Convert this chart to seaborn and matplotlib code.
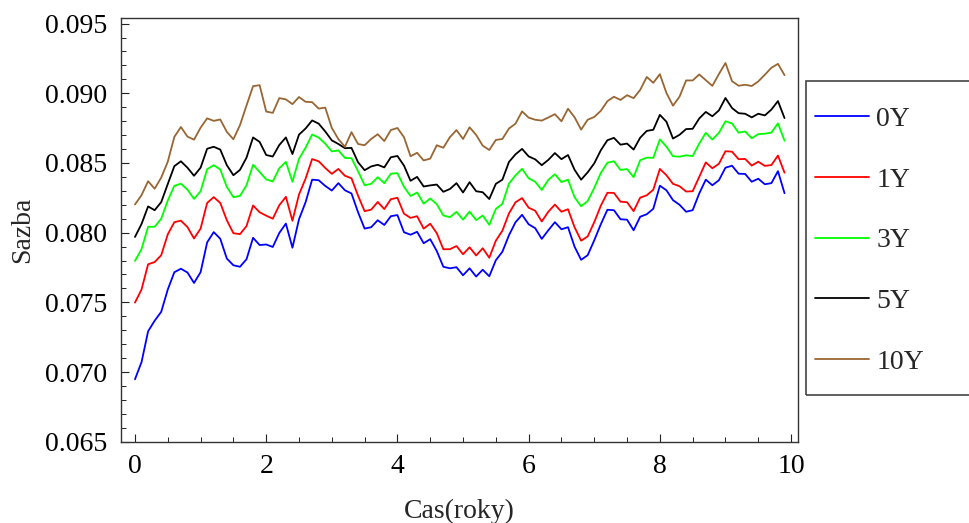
import numpy as np
import pandas as pd
import matplotlib
matplotlib.use("Agg")
import matplotlib.pyplot as plt
from matplotlib.patches import Rectangle
import seaborn as sns

# time grid (years)
t = np.round(np.arange(100) * 0.1, 1)

r_0y = [0.06948, 0.07071, 0.07292, 0.07368, 0.07432, 0.07592, 0.07716, 0.07741, 0.07714, 0.07639,
        0.07716, 0.07930, 0.08004, 0.07956, 0.07814, 0.07766, 0.07755, 0.07809, 0.07963, 0.07911,
        0.07915, 0.07897, 0.07998, 0.08065, 0.07892, 0.08096, 0.08218, 0.08380, 0.08376, 0.08335,
        0.08302, 0.08355, 0.08304, 0.08281, 0.08146, 0.08029, 0.08039, 0.08089, 0.08055, 0.08118,
        0.08126, 0.08003, 0.07985, 0.08006, 0.07924, 0.07953, 0.07868, 0.07755, 0.07744, 0.07752,
        0.07694, 0.07744, 0.07685, 0.07734, 0.07687, 0.07802, 0.07863, 0.07981, 0.08075, 0.08128,
        0.08060, 0.08032, 0.07955, 0.08017, 0.08075, 0.08024, 0.08039, 0.07899, 0.07805, 0.07838,
        0.07945, 0.08060, 0.08164, 0.08161, 0.08096, 0.08093, 0.08017, 0.08114, 0.08132, 0.08171,
        0.08337, 0.08304, 0.08233, 0.08200, 0.08150, 0.08161, 0.08281, 0.08380, 0.08340, 0.08376,
        0.08466, 0.08480, 0.08423, 0.08421, 0.08365, 0.08387, 0.08347, 0.08355, 0.08441, 0.08283]

r_1y = [0.07498, 0.07592, 0.07773, 0.07789, 0.07838, 0.07988, 0.08075, 0.08086, 0.08040, 0.07958,
        0.08029, 0.08213, 0.08255, 0.08213, 0.08089, 0.07996, 0.07989, 0.08047, 0.08195, 0.08146,
        0.08122, 0.08100, 0.08197, 0.08257, 0.08085, 0.08274, 0.08387, 0.08528, 0.08512, 0.08464,
        0.08422, 0.08457, 0.08408, 0.08390, 0.08265, 0.08154, 0.08165, 0.08220, 0.08169, 0.08240,
        0.08250, 0.08136, 0.08106, 0.08118, 0.08029, 0.08064, 0.07996, 0.07881, 0.07881, 0.07904,
        0.07845, 0.07895, 0.07836, 0.07888, 0.07820, 0.07942, 0.08014, 0.08138, 0.08218, 0.08248,
        0.08179, 0.08157, 0.08080, 0.08150, 0.08201, 0.08150, 0.08168, 0.08039, 0.07942, 0.07973,
        0.08075, 0.08193, 0.08286, 0.08285, 0.08222, 0.08218, 0.08154, 0.08251, 0.08268, 0.08308,
        0.08457, 0.08412, 0.08350, 0.08333, 0.08295, 0.08297, 0.08400, 0.08504, 0.08462, 0.08494,
        0.08584, 0.08581, 0.08527, 0.08529, 0.08481, 0.08509, 0.08479, 0.08485, 0.08553, 0.08430]

r_3y = [0.07797, 0.07882, 0.08042, 0.08042, 0.08100, 0.08230, 0.08336, 0.08351, 0.08308, 0.08242,
        0.08297, 0.08455, 0.08484, 0.08453, 0.08328, 0.08254, 0.08264, 0.08340, 0.08487, 0.08435,
        0.08382, 0.08367, 0.08462, 0.08508, 0.08365, 0.08530, 0.08609, 0.08704, 0.08682, 0.08638,
        0.08583, 0.08590, 0.08536, 0.08534, 0.08441, 0.08340, 0.08350, 0.08398, 0.08355, 0.08423,
        0.08427, 0.08329, 0.08263, 0.08288, 0.08208, 0.08245, 0.08204, 0.08123, 0.08111, 0.08149,
        0.08093, 0.08151, 0.08090, 0.08123, 0.08056, 0.08170, 0.08207, 0.08352, 0.08411, 0.08458,
        0.08390, 0.08365, 0.08306, 0.08379, 0.08419, 0.08363, 0.08380, 0.08254, 0.08189, 0.08227,
        0.08321, 0.08428, 0.08502, 0.08512, 0.08450, 0.08456, 0.08398, 0.08520, 0.08538, 0.08537,
        0.08669, 0.08617, 0.08548, 0.08545, 0.08555, 0.08549, 0.08639, 0.08716, 0.08668, 0.08716,
        0.08799, 0.08783, 0.08717, 0.08726, 0.08677, 0.08707, 0.08710, 0.08718, 0.08784, 0.08660]

r_5y = [0.07969, 0.08062, 0.08188, 0.08161, 0.08219, 0.08349, 0.08477, 0.08512, 0.08466, 0.08408,
        0.08466, 0.08602, 0.08616, 0.08596, 0.08484, 0.08412, 0.08450, 0.08538, 0.08683, 0.08651,
        0.08557, 0.08546, 0.08629, 0.08683, 0.08564, 0.08703, 0.08747, 0.08805, 0.08782, 0.08726,
        0.08662, 0.08636, 0.08606, 0.08608, 0.08505, 0.08448, 0.08475, 0.08487, 0.08468, 0.08541,
        0.08550, 0.08481, 0.08372, 0.08400, 0.08331, 0.08339, 0.08345, 0.08293, 0.08313, 0.08355,
        0.08288, 0.08362, 0.08297, 0.08290, 0.08241, 0.08350, 0.08380, 0.08507, 0.08562, 0.08601,
        0.08547, 0.08526, 0.08484, 0.08522, 0.08571, 0.08527, 0.08557, 0.08451, 0.08380, 0.08433,
        0.08497, 0.08591, 0.08663, 0.08680, 0.08631, 0.08639, 0.08596, 0.08681, 0.08730, 0.08738,
        0.08845, 0.08796, 0.08675, 0.08702, 0.08743, 0.08745, 0.08819, 0.08866, 0.08835, 0.08877,
        0.08966, 0.08894, 0.08857, 0.08853, 0.08827, 0.08853, 0.08841, 0.08883, 0.08944, 0.08822]

r_10y = [0.08202, 0.08269, 0.08369, 0.08315, 0.08395, 0.08509, 0.08687, 0.08758, 0.08689, 0.08667,
         0.08753, 0.08820, 0.08802, 0.08812, 0.08723, 0.08670, 0.08771, 0.08912, 0.09051, 0.09058,
         0.08869, 0.08859, 0.08965, 0.08956, 0.08922, 0.08973, 0.08939, 0.08936, 0.08890, 0.08897,
         0.08751, 0.08671, 0.08616, 0.08721, 0.08636, 0.08627, 0.08672, 0.08706, 0.08657, 0.08736,
         0.08751, 0.08685, 0.08548, 0.08573, 0.08518, 0.08531, 0.08627, 0.08609, 0.08685, 0.08736,
         0.08672, 0.08756, 0.08701, 0.08624, 0.08593, 0.08665, 0.08672, 0.08747, 0.08782, 0.08870,
         0.08825, 0.08810, 0.08804, 0.08826, 0.08850, 0.08799, 0.08889, 0.08828, 0.08739, 0.08810,
         0.08830, 0.08874, 0.08943, 0.08975, 0.08952, 0.08986, 0.08965, 0.09024, 0.09117, 0.09075,
         0.09137, 0.09002, 0.08911, 0.08976, 0.09092, 0.09092, 0.09135, 0.09094, 0.09053, 0.09138,
         0.09217, 0.09087, 0.09054, 0.09061, 0.09052, 0.09085, 0.09133, 0.09183, 0.09211, 0.09130]

series_names = ["0Y", "1Y", "3Y", "5Y", "10Y"]
series_vals = [r_0y, r_1y, r_3y, r_5y, r_10y]
series_colors = ["#0000ff", "#ff0000", "#00ff00", "#000000", "#996633"]

x_ticks = [0, 2, 4, 6, 8, 10]
y_ticks = [0.065, 0.070, 0.075, 0.080, 0.085, 0.090, 0.095]
x_label = "Cas(roky)"
y_label = "Sazba"

df = pd.concat([pd.DataFrame({"t": t, "r": v, "s": n})
                for n, v in zip(series_names, series_vals)], ignore_index=True)

sns.set_style("ticks")
plt.rcParams["font.family"] = ["Liberation Serif", "DejaVu Serif"]

fig = plt.figure(figsize=(9.7, 5.23), dpi=100)
ax = fig.add_axes([121 / 970, 1 - 441.7 / 523, (798.3 - 121) / 970, (441.7 - 18) / 523])

sns.lineplot(data=df, x="t", y="r", hue="s", hue_order=series_names,
             palette=dict(zip(series_names, series_colors)), estimator=None,
             linewidth=1.3, ax=ax)

ax.set_xlim(-0.213, 10.11)
ax.set_ylim(0.065, 0.0954)
ax.set_xticks(x_ticks)
ax.set_xticks(np.arange(0, 10.01, 0.5), minor=True)
ax.set_yticks(y_ticks)
ax.set_yticks(np.arange(0.065, 0.0951, 0.001), minor=True)
ax.set_yticklabels([f"{v:.3f}" for v in y_ticks])
ax.set_xticklabels([str(v) for v in x_ticks])
ax.tick_params(which="major", direction="in", length=6, width=0.8, labelsize=20,
               colors="#222222", labelcolor="black")
ax.tick_params(which="minor", direction="in", length=3.5, width=0.7, colors="#222222")
ax.tick_params(axis="y", which="major", pad=10)
ax.tick_params(axis="x", which="major", pad=9)
for sp in ax.spines.values():
    sp.set_color("#333333")
    sp.set_linewidth(1.0)

ax.set_xlabel(x_label, fontsize=20, labelpad=14)
ax.set_ylabel(y_label, fontsize=20, labelpad=7)

handles, labels = ax.get_legend_handles_labels()
ax.legend(handles, labels, loc="upper left", bbox_to_anchor=(815 / 970, 1 - 106.5 / 523),
          bbox_transform=fig.transFigure, frameon=False, fontsize=20,
          handlelength=1.95, handletextpad=0.25, labelspacing=1.27,
          borderpad=0, borderaxespad=0)
fig.patches.append(Rectangle((806 / 970, 1 - 395 / 523), 180 / 970, (395 - 80.7) / 523,
                             transform=fig.transFigure, fill=False,
                             edgecolor="#444444", linewidth=1.2))

fig.savefig("out.png", dpi=100)
